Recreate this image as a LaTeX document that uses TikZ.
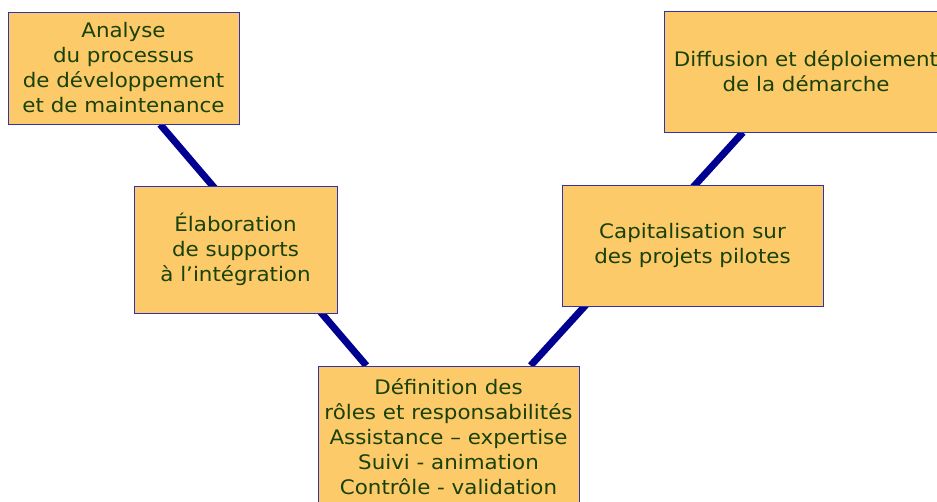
\documentclass[tikz,border=0pt]{standalone}
\usepackage{fontspec}
\setmainfont[FakeStretch=1.07]{DejaVu Sans}
\usetikzlibrary{backgrounds}

\definecolor{boxfill}{RGB}{252,202,104}
\definecolor{boxline}{RGB}{50,50,170}
\definecolor{boxtext}{RGB}{25,65,10}
\definecolor{linkblue}{RGB}{0,0,145}

\begin{document}
\begin{tikzpicture}[
    x=1pt, y=1pt,
    stepbox/.style={
        draw=boxline,
        fill=boxfill,
        text=boxtext,
        line width=0.8pt,
        inner sep=0pt,
        align=center,
        font=\fontsize{20}{25}\selectfont
    },
    link/.style={draw=linkblue, line width=7pt}
]
\useasboundingbox (0,0) rectangle (937,501);

\node[stepbox, minimum width=231pt, minimum height=112pt] (analyse) at (123.5,433)
    {Analyse\\du processus\\de développement\\et de maintenance};
\node[stepbox, minimum width=203pt, minimum height=127pt] (elaboration) at (235.5,251.5)
    {Élaboration\\de supports\\à l’intégration};
\node[stepbox, minimum width=261pt, minimum height=142pt] (definition) at (448.5,64)
    {Définition des\\rôles et responsabilités\\Assistance – expertise\\Suivi - animation\\Contrôle - validation};
\node[stepbox, minimum width=261pt, minimum height=121pt] (capitalisation) at (692.5,255.5)
    {Capitalisation sur\\des projets pilotes};
\node[stepbox, minimum width=284pt, minimum height=121pt] (diffusion) at (806,429.5)
    {Diffusion et déploiement\\de la démarche};

\begin{scope}[on background layer]
\draw[link] (analyse.-57.6) -- (definition.139.6);
\draw[link] (definition.41.05) -- (diffusion.-136.2);
\end{scope}

\end{tikzpicture}
\end{document}
